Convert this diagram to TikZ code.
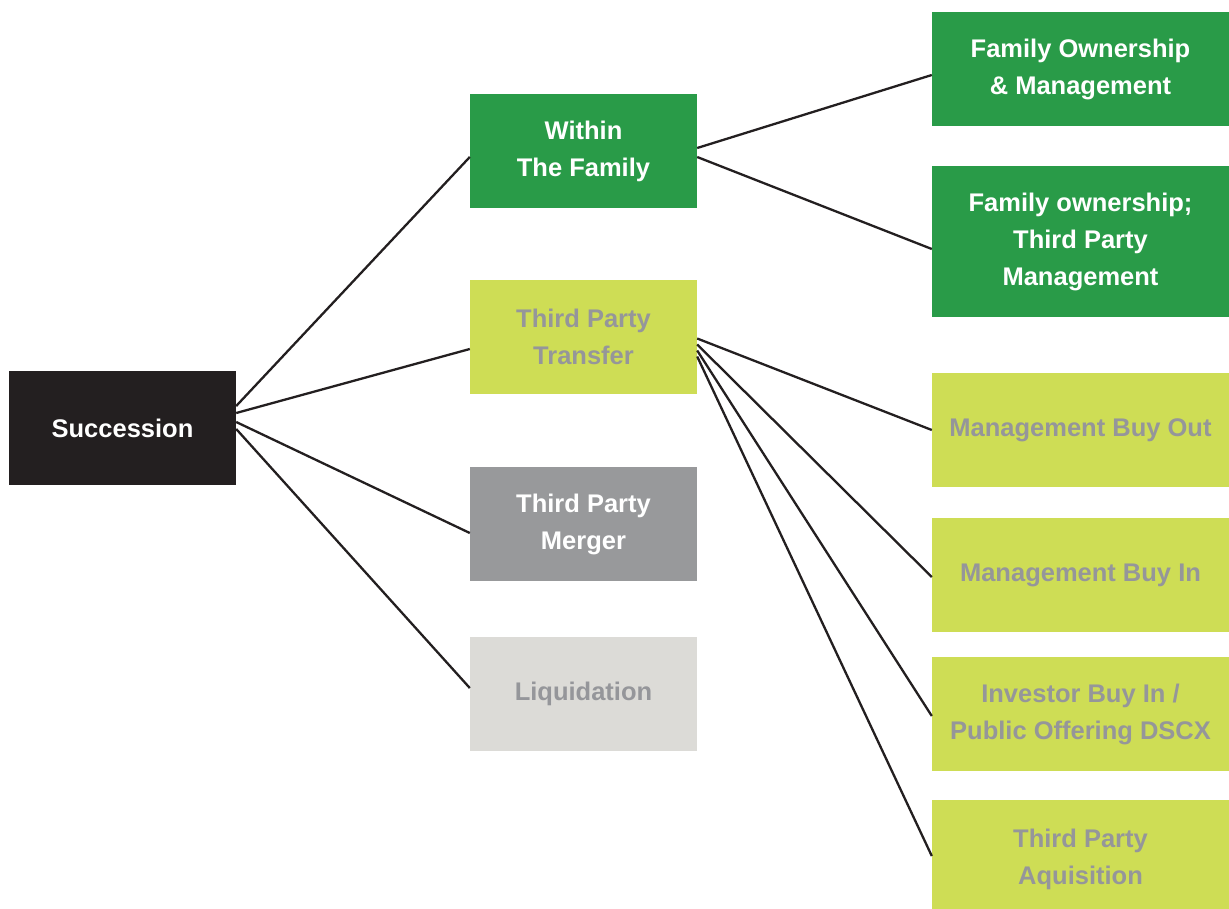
\documentclass[tikz,border=0pt]{standalone}
\usepackage{fontspec}
\setmainfont{Liberation Sans}
\definecolor{rootblack}{HTML}{231F20}
\definecolor{famgreen}{HTML}{299B48}
\definecolor{lime}{HTML}{CEDD55}
\definecolor{mergegray}{HTML}{98999B}
\definecolor{liqgray}{HTML}{DCDBD7}
\definecolor{textgray}{HTML}{95969A}
\begin{document}
\begin{tikzpicture}[x=1pt,y=-1pt]
	\tikzstyle{every node}+=[inner sep=0pt, align=center, font=\fontsize{25.5}{37}\selectfont\bfseries]
	\tikzstyle{midbox}=[minimum width=227pt, minimum height=114pt]
	\tikzstyle{leafbox}=[minimum width=297pt, minimum height=114pt]
	\tikzstyle{link}=[rootblack, line width=2.3pt]
	\useasboundingbox (0,0) rectangle (1229,908);
	\clip (0,0) rectangle (1229,908);
	\node [midbox, fill=rootblack, text=white] (succ) at (122.5,428) {Succession};
	\node [midbox, fill=famgreen, text=white] (within) at (583.5,151) {Within\\The Family};
	\node [midbox, fill=lime, text=textgray] (transfer) at (583.5,337) {Third Party\\Transfer};
	\node [midbox, fill=mergegray, text=white] (merger) at (583.5,524) {Third Party\\Merger};
	\node [midbox, fill=liqgray, text=textgray] (liq) at (583.5,694) {Liquidation};
	\node [leafbox, fill=famgreen, text=white] (fom) at (1080.5,69) {Family Ownership\\\& Management};
	\node [leafbox, minimum height=151pt, fill=famgreen, text=white] (fotp) at (1080.5,241.5) {Family ownership;\\Third Party\\Management};
	\node [leafbox, fill=lime, text=textgray] (mbo) at (1080.5,430) {Management Buy Out};
	\node [leafbox, fill=lime, text=textgray] (mbi) at (1080.5,575) {Management Buy In};
	\node [leafbox, fill=lime, text=textgray] (ibi) at (1080.5,714) {Investor Buy In /\\Public Offering DSCX};
	\node [leafbox, minimum height=118pt, fill=lime, text=textgray] (tpa) at (1080.5,859) {Third Party\\Aquisition};
	\draw [link] ([yshift=22pt]succ.east) -- ([yshift=-6pt]within.west);
	\draw [link] ([yshift=15pt]succ.east) -- ([yshift=-12pt]transfer.west);
	\draw [link] ([yshift=6pt]succ.east) -- ([yshift=-9pt]merger.west);
	\draw [link] ([yshift=-1pt]succ.east) -- ([yshift=6pt]liq.west);
	\draw [link] ([yshift=3pt]within.east) -- ([yshift=-6pt]fom.west);
	\draw [link] ([yshift=-6pt]within.east) -- ([yshift=-7.5pt]fotp.west);
	\draw [link] ([yshift=-1.5pt]transfer.east) -- (mbo.west);
	\draw [link] ([yshift=-7.5pt]transfer.east) -- ([yshift=-2pt]mbi.west);
	\draw [link] ([yshift=-13.5pt]transfer.east) -- ([yshift=-2pt]ibi.west);
	\draw [link] ([yshift=-19.5pt]transfer.east) -- ([yshift=3pt]tpa.west);
\end{tikzpicture}
\end{document}
